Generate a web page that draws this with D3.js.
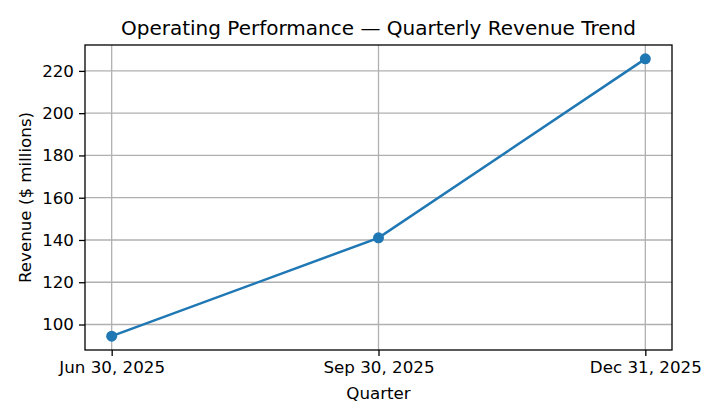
<!DOCTYPE html>
<html><head><meta charset="utf-8">
<script src="https://cdn.jsdelivr.net/npm/d3@7"></script>
<style>body{margin:0;background:#fff}svg{display:block;font-family:"DejaVu Sans",sans-serif}</style>
</head><body><svg id="c" width="720" height="420"></svg>
<script>
const dates = ["2025-06-30", "2025-09-30", "2025-12-31"];
const dateLabels = ["Jun 30, 2025", "Sep 30, 2025", "Dec 31, 2025"];
const revenue = [94.5, 141.0, 225.7];
const yTicks = [100, 120, 140, 160, 180, 200, 220];

const svg = d3.select("#c");
const m = {l: 85, r: 672, t: 45, b: 350};
const parse = d3.utcParse("%Y-%m-%d");
const xd = dates.map(parse);
const span = xd[2] - xd[0];
const x = d3.scaleUtc().domain([new Date(+xd[0] - span*0.05), new Date(+xd[2] + span*0.05)]).range([m.l, m.r]);
const ymin = d3.min(revenue), ymax = d3.max(revenue), yp = (ymax - ymin)*0.05;
const y = d3.scaleLinear().domain([ymin - yp, ymax + yp]).range([m.b, m.t]);

// grid
const g = svg.append("g");
g.selectAll(".gy").data(yTicks).join("line").attr("x1", m.l).attr("x2", m.r)
  .attr("y1", d => y(d)).attr("y2", d => y(d)).attr("stroke", "#b0b0b0").attr("stroke-width", 1.3);
g.selectAll(".gx").data(xd).join("line").attr("y1", m.t).attr("y2", m.b)
  .attr("x1", d => x(d)).attr("x2", d => x(d)).attr("stroke", "#b0b0b0").attr("stroke-width", 1.3);

// axes
const xAxis = d3.axisBottom(x).tickValues(xd).tickFormat((d, i) => dateLabels[i]).tickSize(6).tickPadding(5);
const yAxis = d3.axisLeft(y).tickValues(yTicks).tickFormat(d3.format("d")).tickSize(6).tickPadding(5);
const ax = svg.append("g").attr("transform", `translate(0,${m.b})`).call(xAxis);
const ay = svg.append("g").attr("transform", `translate(${m.l},0)`).call(yAxis);
[ax, ay].forEach(a => {
  a.select(".domain").remove();
  a.attr("font-size", null).attr("font-family", null);
  a.selectAll("line").attr("stroke", "#000").attr("stroke-width", 1.3);
  a.selectAll("text").attr("fill", "#000").style("font-size", "16.7px").style("font-family", "DejaVu Sans");
});

// line + markers
svg.append("path").datum(revenue).attr("fill", "none").attr("stroke", "#1f77b4").attr("stroke-width", 2.5)
  .attr("d", d3.line().x((d, i) => x(xd[i])).y(d => y(d)));
svg.selectAll(".pt").data(revenue).join("circle").attr("cx", (d, i) => x(xd[i])).attr("cy", d => y(d))
  .attr("r", 5.5).attr("fill", "#1f77b4");

// frame
svg.append("rect").attr("x", m.l).attr("y", m.t).attr("width", m.r - m.l).attr("height", m.b - m.t)
  .attr("fill", "none").attr("stroke", "#000").attr("stroke-width", 1.3);

// texts
svg.append("text").attr("x", (m.l + m.r)/2).attr("y", 35).attr("text-anchor", "middle")
  .style("font-size", "20px").text("Operating Performance — Quarterly Revenue Trend");
svg.append("text").attr("x", (m.l + m.r)/2).attr("y", 399).attr("text-anchor", "middle")
  .style("font-size", "16.7px").text("Quarter");
svg.append("text").attr("transform", `translate(31,${(m.t + m.b)/2}) rotate(-90)`).attr("text-anchor", "middle")
  .style("font-size", "16.7px").text("Revenue ($ millions)");
</script></body></html>
